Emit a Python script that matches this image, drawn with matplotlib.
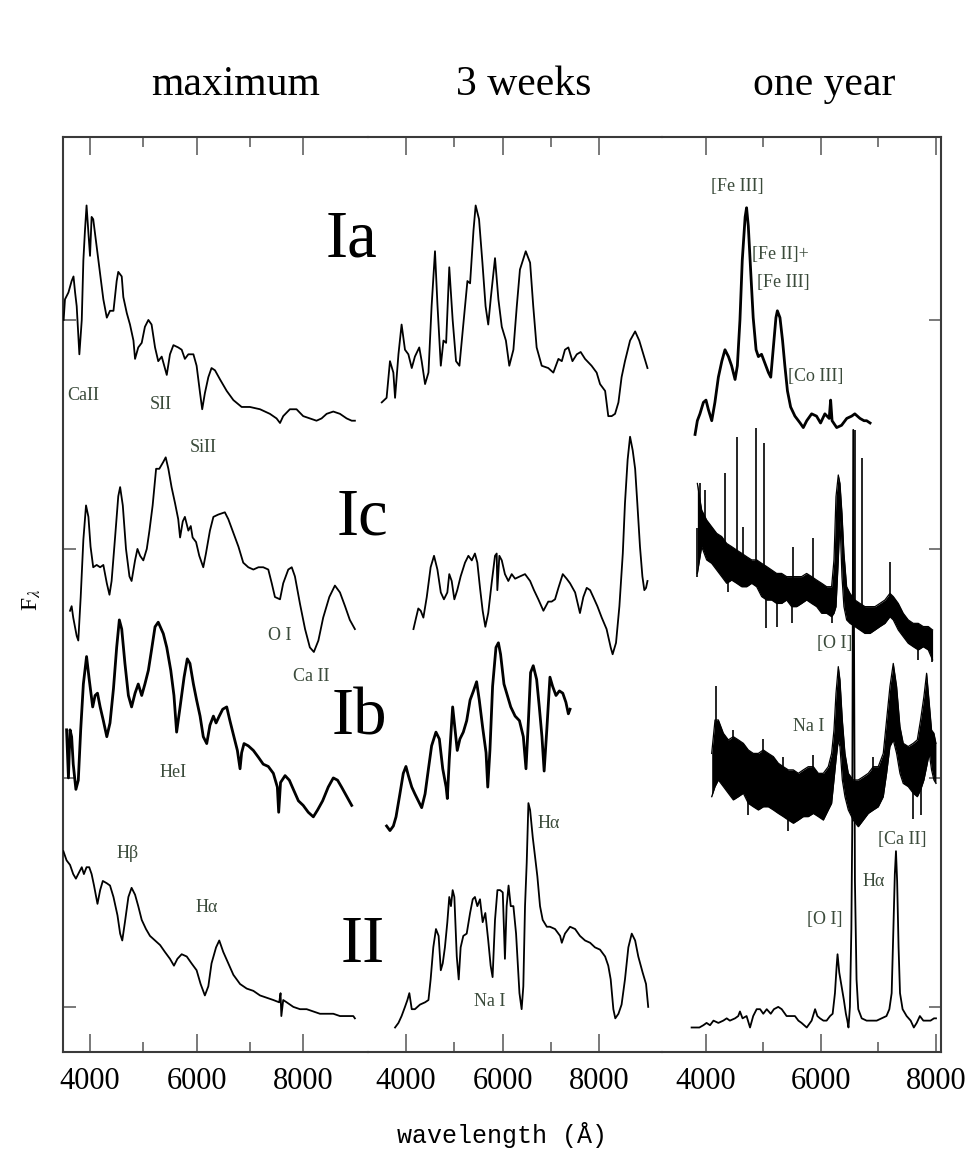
import numpy as np
import matplotlib.pyplot as plt

plt.rcParams['font.family'] = ['Liberation Serif', 'DejaVu Serif']
plt.rcParams['mathtext.fontset'] = 'stix'

# ---- data: (wavelength in A, flux relative to the type's baseline) ----
EPOCHS = ['maximum', '3 weeks', 'one year']
TYPES = ['Ia', 'Ic', 'Ib', 'II']
OFFSETS = [3, 2, 1, 0]
XTICKS = [4000, 6000, 8000]
XMINOR = [5000, 7000]

ia_max = [(3505, 0.00), (3530, 0.09), (3595, 0.12), (3655, 0.17), (3690, 0.19), (3720, 0.12), (3750, 0.06),
          (3800, -0.15), (3845, 0.00), (3875, 0.26), (3905, 0.39), (3935, 0.50), (3970, 0.38), (4000, 0.28),
          (4030, 0.45), (4060, 0.44), (4125, 0.32), (4190, 0.20), (4250, 0.09), (4315, 0.01), (4375, 0.04),
          (4440, 0.04), (4500, 0.17), (4530, 0.21), (4595, 0.19), (4625, 0.10), (4690, 0.03), (4750, -0.02),
          (4815, -0.09), (4845, -0.17), (4905, -0.12), (4970, -0.10), (5030, -0.03), (5095, 0.00), (5155, -0.02),
          (5220, -0.12), (5280, -0.18), (5345, -0.16), (5440, -0.24), (5500, -0.15), (5565, -0.11), (5655, -0.12),
          (5720, -0.13), (5780, -0.17), (5845, -0.15), (5940, -0.15), (6000, -0.20), (6065, -0.32), (6105, -0.39),
          (6155, -0.32), (6220, -0.25), (6280, -0.21), (6345, -0.22), (6440, -0.26), (6565, -0.31), (6690, -0.35),
          (6845, -0.38), (7000, -0.38), (7190, -0.39), (7375, -0.41), (7500, -0.43), (7565, -0.45), (7625, -0.42),
          (7750, -0.39), (7875, -0.39), (8000, -0.42), (8125, -0.43), (8250, -0.44), (8345, -0.43), (8440, -0.41),
          (8565, -0.40), (8690, -0.41), (8815, -0.43), (8910, -0.44), (8970, -0.44)]

ia_3wk = [(3505, -0.36), (3605, -0.34), (3675, -0.18), (3745, -0.23), (3780, -0.34), (3850, -0.15), (3915, -0.02),
          (3985, -0.13), (4055, -0.15), (4125, -0.21), (4190, -0.16), (4280, -0.12), (4330, -0.18), (4400, -0.28),
          (4470, -0.23), (4535, 0.06), (4605, 0.30), (4655, 0.07), (4725, -0.20), (4780, -0.09), (4835, -0.10),
          (4900, 0.23), (4970, 0.00), (5040, -0.18), (5110, -0.20), (5190, -0.02), (5275, 0.17), (5330, 0.16),
          (5400, 0.39), (5445, 0.50), (5515, 0.44), (5585, 0.25), (5650, 0.06), (5705, -0.02), (5760, 0.10),
          (5845, 0.27), (5915, 0.09), (5985, -0.03), (6070, -0.09), (6140, -0.20), (6225, -0.13), (6295, 0.06),
          (6360, 0.22), (6480, 0.30), (6570, 0.25), (6635, 0.06), (6705, -0.12), (6810, -0.20), (6945, -0.21),
          (7050, -0.23), (7155, -0.17), (7225, -0.18), (7290, -0.13), (7360, -0.12), (7445, -0.18), (7535, -0.15),
          (7615, -0.14), (7705, -0.17), (7840, -0.20), (7945, -0.23), (8015, -0.28), (8120, -0.31), (8185, -0.42),
          (8255, -0.42), (8325, -0.41), (8395, -0.36), (8460, -0.25), (8530, -0.18), (8635, -0.09), (8740, -0.05),
          (8825, -0.09), (8910, -0.15), (8995, -0.21)]

ia_year = [(3815, -0.50), (3855, -0.44), (3900, -0.41), (3960, -0.36), (4005, -0.35), (4045, -0.39), (4105, -0.44),
           (4160, -0.36), (4220, -0.25), (4280, -0.18), (4335, -0.13), (4395, -0.16), (4450, -0.20), (4510, -0.26),
           (4550, -0.20), (4595, 0.00), (4635, 0.26), (4685, 0.45), (4710, 0.49), (4740, 0.41), (4780, 0.22),
           (4825, 0.01), (4875, -0.13), (4915, -0.16), (4970, -0.15), (5030, -0.19), (5090, -0.23), (5130, -0.25),
           (5175, -0.12), (5220, 0.01), (5245, 0.04), (5290, 0.01), (5335, -0.09), (5375, -0.20), (5420, -0.31),
           (5475, -0.38), (5550, -0.42), (5640, -0.45), (5695, -0.47), (5755, -0.44), (5840, -0.41), (5925, -0.42),
           (5995, -0.45), (6070, -0.41), (6145, -0.43), (6170, -0.35), (6195, -0.44), (6275, -0.47), (6360, -0.46),
           (6450, -0.43), (6535, -0.42), (6590, -0.41), (6680, -0.43), (6750, -0.44), (6795, -0.44), (6855, -0.45)]

ic_max = [(3625, -0.27), (3655, -0.25), (3685, -0.30), (3750, -0.38), (3780, -0.40), (3825, -0.21), (3875, 0.04),
          (3925, 0.19), (3970, 0.14), (4010, 0.01), (4060, -0.08), (4125, -0.07), (4190, -0.08), (4250, -0.07),
          (4315, -0.15), (4365, -0.20), (4405, -0.14), (4470, 0.05), (4530, 0.23), (4565, 0.27), (4615, 0.19),
          (4675, 0.00), (4740, -0.12), (4780, -0.14), (4845, -0.05), (4890, 0.00), (4940, -0.03), (5000, -0.05),
          (5065, 0.00), (5115, 0.08), (5175, 0.19), (5240, 0.35), (5300, 0.35), (5375, 0.38), (5420, 0.40),
          (5470, 0.35), (5530, 0.27), (5595, 0.20), (5655, 0.13), (5690, 0.05), (5740, 0.12), (5780, 0.14),
          (5845, 0.08), (5890, 0.10), (5925, 0.05), (5990, 0.03), (6050, -0.03), (6125, -0.08), (6175, -0.02),
          (6250, 0.08), (6315, 0.14), (6405, 0.15), (6530, 0.16), (6595, 0.13), (6690, 0.07), (6785, 0.01),
          (6875, -0.06), (6970, -0.08), (7065, -0.09), (7160, -0.08), (7250, -0.08), (7345, -0.09), (7410, -0.15),
          (7470, -0.21), (7565, -0.22), (7625, -0.15), (7720, -0.09), (7785, -0.08), (7845, -0.12), (7940, -0.24),
          (8035, -0.35), (8125, -0.43), (8200, -0.45), (8285, -0.40), (8375, -0.30), (8490, -0.21), (8595, -0.16),
          (8690, -0.19), (8785, -0.25), (8875, -0.31), (8970, -0.35)]

ic_3wk = [(4160, -0.35), (4215, -0.30), (4260, -0.26), (4310, -0.27), (4365, -0.30), (4435, -0.21), (4515, -0.08),
          (4585, -0.03), (4655, -0.09), (4725, -0.19), (4790, -0.22), (4860, -0.19), (4900, -0.11), (4950, -0.14),
          (5005, -0.22), (5065, -0.18), (5135, -0.12), (5225, -0.06), (5295, -0.03), (5365, -0.05), (5430, -0.02),
          (5480, -0.06), (5535, -0.17), (5590, -0.27), (5645, -0.34), (5705, -0.28), (5775, -0.15), (5845, -0.03),
          (5880, -0.02), (5893, -0.18), (5935, -0.03), (5985, -0.05), (6050, -0.11), (6120, -0.14), (6190, -0.11),
          (6260, -0.13), (6360, -0.12), (6465, -0.11), (6570, -0.14), (6650, -0.18), (6740, -0.22), (6845, -0.27),
          (6945, -0.23), (7015, -0.23), (7085, -0.22), (7155, -0.17), (7245, -0.11), (7325, -0.13), (7395, -0.15),
          (7500, -0.19), (7600, -0.28), (7670, -0.21), (7740, -0.17), (7810, -0.18), (7875, -0.21), (7960, -0.25),
          (8050, -0.30), (8150, -0.35), (8235, -0.43), (8275, -0.46), (8345, -0.41), (8415, -0.25), (8485, -0.02),
          (8530, 0.20), (8585, 0.39), (8635, 0.49), (8690, 0.43), (8740, 0.35), (8785, 0.20), (8840, 0.01),
          (8890, -0.12), (8930, -0.18), (8965, -0.17), (8995, -0.14)]

ib_max = [(3560, 0.21), (3595, 0.00), (3625, 0.21), (3655, 0.18), (3685, 0.06), (3735, -0.05), (3780, -0.01),
          (3825, 0.21), (3875, 0.41), (3935, 0.53), (3985, 0.43), (4050, 0.31), (4095, 0.36), (4140, 0.37),
          (4190, 0.31), (4250, 0.25), (4315, 0.18), (4375, 0.24), (4440, 0.39), (4500, 0.57), (4550, 0.69),
          (4595, 0.65), (4655, 0.50), (4720, 0.36), (4780, 0.31), (4845, 0.37), (4905, 0.41), (4970, 0.36),
          (5030, 0.41), (5095, 0.47), (5155, 0.56), (5220, 0.66), (5280, 0.68), (5375, 0.63), (5440, 0.57),
          (5515, 0.47), (5575, 0.36), (5625, 0.20), (5690, 0.31), (5765, 0.44), (5825, 0.52), (5875, 0.50),
          (5940, 0.41), (6000, 0.34), (6065, 0.27), (6125, 0.18), (6190, 0.15), (6250, 0.23), (6315, 0.27),
          (6365, 0.24), (6425, 0.27), (6490, 0.30), (6565, 0.31), (6625, 0.25), (6700, 0.18), (6765, 0.12),
          (6815, 0.04), (6845, 0.11), (6890, 0.15), (6970, 0.14), (7065, 0.12), (7160, 0.09), (7250, 0.06),
          (7345, 0.05), (7440, 0.02), (7515, -0.04), (7540, -0.15), (7575, -0.02), (7660, 0.01), (7740, -0.01),
          (7815, -0.05), (7910, -0.10), (8000, -0.12), (8095, -0.15), (8190, -0.17), (8270, -0.14), (8365, -0.10),
          (8470, -0.04), (8565, 0.00), (8645, -0.01), (8720, -0.04), (8815, -0.08), (8910, -0.12)]

ib_3wk = [(3605, -0.21), (3675, -0.23), (3745, -0.21), (3800, -0.17), (3880, -0.07), (3950, 0.02), (4005, 0.05),
          (4055, 0.01), (4125, -0.04), (4190, -0.07), (4260, -0.10), (4330, -0.13), (4400, -0.07), (4470, 0.04),
          (4535, 0.14), (4625, 0.20), (4695, 0.17), (4765, 0.04), (4835, -0.04), (4860, -0.09), (4900, 0.08),
          (4970, 0.31), (5020, 0.21), (5065, 0.12), (5120, 0.17), (5190, 0.20), (5260, 0.25), (5330, 0.34),
          (5400, 0.38), (5465, 0.42), (5520, 0.34), (5590, 0.22), (5660, 0.11), (5695, -0.04), (5740, 0.12),
          (5795, 0.40), (5865, 0.57), (5915, 0.59), (5960, 0.54), (6030, 0.41), (6100, 0.36), (6170, 0.31),
          (6260, 0.27), (6350, 0.25), (6430, 0.18), (6485, 0.04), (6535, 0.25), (6580, 0.46), (6635, 0.49),
          (6705, 0.43), (6760, 0.31), (6815, 0.18), (6860, 0.03), (6915, 0.21), (6980, 0.44), (7035, 0.40),
          (7105, 0.36), (7175, 0.38), (7245, 0.37), (7310, 0.33), (7360, 0.28), (7395, 0.30)]

ii_max = [(3500, 0.68), (3560, 0.64), (3625, 0.62), (3685, 0.58), (3735, 0.56), (3800, 0.59), (3845, 0.61),
          (3885, 0.58), (3935, 0.61), (3985, 0.61), (4030, 0.58), (4075, 0.53), (4140, 0.45), (4190, 0.51),
          (4240, 0.55), (4315, 0.54), (4375, 0.53), (4440, 0.48), (4515, 0.40), (4565, 0.32), (4605, 0.29),
          (4655, 0.37), (4720, 0.48), (4780, 0.52), (4845, 0.49), (4905, 0.44), (4970, 0.38), (5050, 0.34),
          (5125, 0.31), (5220, 0.29), (5315, 0.27), (5405, 0.24), (5500, 0.21), (5575, 0.18), (5640, 0.21),
          (5720, 0.23), (5815, 0.22), (5905, 0.19), (6000, 0.16), (6075, 0.10), (6155, 0.05), (6220, 0.09),
          (6280, 0.19), (6365, 0.26), (6425, 0.29), (6500, 0.24), (6595, 0.19), (6690, 0.14), (6815, 0.10),
          (6940, 0.08), (7065, 0.07), (7190, 0.05), (7315, 0.04), (7440, 0.03), (7550, 0.02), (7575, 0.06),
          (7590, -0.04), (7625, 0.03), (7690, 0.02), (7815, 0.00), (7940, -0.01), (8065, -0.01), (8190, -0.02),
          (8315, -0.03), (8440, -0.03), (8565, -0.03), (8690, -0.04), (8815, -0.04), (8940, -0.04), (8970, -0.05)]

ii_3wk = [(3780, -0.09), (3850, -0.07), (3915, -0.04), (3985, 0.00), (4035, 0.03), (4075, 0.06), (4125, -0.01),
          (4190, -0.01), (4295, 0.01), (4400, 0.02), (4470, 0.03), (4515, 0.12), (4570, 0.26), (4625, 0.34),
          (4680, 0.31), (4725, 0.16), (4765, 0.19), (4810, 0.26), (4860, 0.37), (4900, 0.48), (4935, 0.44),
          (4970, 0.51), (5005, 0.48), (5055, 0.22), (5095, 0.12), (5135, 0.26), (5190, 0.31), (5260, 0.32),
          (5330, 0.41), (5385, 0.47), (5430, 0.48), (5480, 0.44), (5535, 0.47), (5590, 0.37), (5645, 0.41),
          (5705, 0.29), (5755, 0.18), (5795, 0.13), (5845, 0.38), (5895, 0.51), (5950, 0.51), (6005, 0.50),
          (6050, 0.21), (6085, 0.44), (6125, 0.53), (6170, 0.44), (6225, 0.44), (6280, 0.32), (6350, 0.06),
          (6395, -0.01), (6430, 0.09), (6465, 0.44), (6500, 0.63), (6535, 0.89), (6570, 0.86), (6625, 0.74),
          (6670, 0.66), (6720, 0.57), (6775, 0.44), (6830, 0.38), (6915, 0.35), (6980, 0.35), (7085, 0.34),
          (7190, 0.31), (7225, 0.28), (7290, 0.32), (7395, 0.35), (7500, 0.34), (7600, 0.31), (7705, 0.29),
          (7810, 0.28), (7910, 0.26), (8015, 0.25), (8120, 0.22), (8185, 0.18), (8235, 0.12), (8290, -0.01),
          (8330, -0.05), (8395, -0.03), (8460, 0.01), (8530, 0.12), (8600, 0.26), (8670, 0.32), (8740, 0.29),
          (8805, 0.22), (8895, 0.15), (8965, 0.10), (9010, 0.00)]

ii_year = [(3755, -0.09), (3815, -0.09), (3890, -0.09), (3960, -0.08), (4015, -0.07), (4075, -0.08), (4135, -0.06),
           (4220, -0.07), (4305, -0.06), (4365, -0.05), (4420, -0.06), (4510, -0.05), (4565, -0.04), (4595, -0.02),
           (4640, -0.05), (4710, -0.04), (4770, -0.09), (4825, -0.04), (4885, -0.01), (4945, -0.01), (5000, -0.03),
           (5060, -0.01), (5130, -0.03), (5185, -0.01), (5260, 0.00), (5320, -0.01), (5405, -0.04), (5495, -0.04),
           (5550, -0.04), (5610, -0.06), (5665, -0.07), (5755, -0.09), (5840, -0.06), (5900, -0.01), (5940, -0.04),
           (5985, -0.05), (6045, -0.06), (6100, -0.06), (6160, -0.04), (6205, -0.03), (6245, 0.06), (6275, 0.18),
           (6290, 0.23), (6320, 0.15), (6360, 0.09), (6400, 0.03), (6435, -0.03), (6460, -0.06), (6480, -0.09),
           (6505, 0.00), (6530, 0.34), (6545, 0.77), (6563, 2.52), (6592, 0.55), (6620, 0.12), (6650, -0.01),
           (6710, -0.05), (6795, -0.06), (6880, -0.06), (6970, -0.06), (7055, -0.05), (7140, -0.04), (7190, -0.01),
           (7230, 0.06), (7260, 0.34), (7285, 0.58), (7305, 0.68), (7325, 0.55), (7350, 0.26), (7375, 0.06),
           (7420, -0.01), (7490, -0.04), (7560, -0.06), (7615, -0.09), (7665, -0.07), (7720, -0.04), (7780, -0.06),
           (7835, -0.06), (7905, -0.06), (7965, -0.05), (8000, -0.05)]

# noisy late-time spectra: (wavelength, lower edge, upper edge) of the noise band
ic_year_band = [(3855, -0.107, 0.286), (3930, 0.010, 0.170), (4017, -0.048, 0.126), (4104, -0.063, 0.097),
                (4191, -0.092, 0.068), (4278, -0.121, 0.054), (4364, -0.150, 0.024), (4451, -0.136, 0.010),
                (4538, -0.150, -0.005), (4625, -0.165, -0.019), (4712, -0.165, -0.034), (4799, -0.150, -0.048),
                (4885, -0.165, -0.048), (4972, -0.208, -0.063), (5059, -0.223, -0.077), (5146, -0.223, -0.092),
                (5232, -0.238, -0.107), (5319, -0.238, -0.107), (5406, -0.223, -0.121), (5493, -0.252, -0.121),
                (5580, -0.252, -0.121), (5666, -0.238, -0.121), (5753, -0.223, -0.107), (5840, -0.238, -0.121),
                (5927, -0.252, -0.136), (6014, -0.281, -0.150), (6101, -0.281, -0.165), (6187, -0.296, -0.165),
                (6228, -0.281, -0.048), (6263, -0.252, 0.228), (6303, -0.048, 0.323), (6332, 0.126, 0.286),
                (6367, -0.121, 0.155), (6401, -0.252, -0.019), (6448, -0.310, -0.165), (6506, -0.325, -0.194),
                (6592, -0.339, -0.223), (6679, -0.354, -0.238), (6766, -0.369, -0.252), (6853, -0.369, -0.252),
                (6940, -0.354, -0.252), (7026, -0.339, -0.238), (7113, -0.325, -0.223), (7200, -0.296, -0.194),
                (7258, -0.310, -0.208), (7345, -0.354, -0.238), (7431, -0.383, -0.281), (7518, -0.412, -0.310),
                (7605, -0.427, -0.325), (7692, -0.441, -0.325), (7779, -0.427, -0.339), (7866, -0.441, -0.339),
                (7941, -0.485, -0.354)]
ic_year_spikes = [(3901, 0.286), (3988, 0.257), (4335, 0.330), (4538, 0.490), (4642, 0.097), (4874, 0.527),
                  (5013, 0.461), (5522, 0.010), (5869, 0.046), (6592, 0.519), (6708, 0.396), (7200, -0.056),
                  (3844, -0.121), (4393, -0.187), (5047, -0.347), (5244, -0.339), (5493, -0.325), (6187, -0.325),
                  (7692, -0.485), (7923, -0.492)]

ib_year_band = [(4104, -0.082, 0.107), (4162, -0.038, 0.253), (4220, -0.009, 0.253), (4307, -0.038, 0.195),
                (4393, -0.067, 0.166), (4480, -0.096, 0.180), (4567, -0.082, 0.166), (4654, -0.067, 0.151),
                (4740, -0.111, 0.122), (4827, -0.126, 0.107), (4914, -0.140, 0.107), (5001, -0.126, 0.122),
                (5088, -0.126, 0.107), (5175, -0.140, 0.093), (5261, -0.155, 0.064), (5348, -0.169, 0.049),
                (5435, -0.184, 0.035), (5522, -0.198, 0.035), (5609, -0.184, 0.020), (5695, -0.169, 0.035),
                (5782, -0.169, 0.049), (5869, -0.155, 0.049), (5956, -0.169, 0.020), (6043, -0.184, 0.020),
                (6129, -0.140, 0.049), (6187, -0.111, 0.107), (6228, -0.009, 0.209), (6263, 0.078, 0.369),
                (6303, 0.166, 0.486), (6332, 0.137, 0.428), (6373, -0.009, 0.253), (6419, -0.082, 0.107),
                (6477, -0.140, 0.020), (6563, -0.184, -0.009), (6650, -0.213, -0.009), (6737, -0.184, 0.005),
                (6824, -0.155, 0.020), (6911, -0.140, 0.049), (6997, -0.126, 0.049), (7084, -0.082, 0.107),
                (7142, 0.020, 0.253), (7200, 0.137, 0.399), (7258, 0.166, 0.500), (7316, 0.107, 0.399),
                (7374, 0.020, 0.224), (7431, -0.024, 0.151), (7518, -0.038, 0.137), (7605, -0.067, 0.151),
                (7675, -0.082, 0.166), (7732, -0.053, 0.253), (7790, -0.009, 0.355), (7837, 0.049, 0.457),
                (7883, 0.107, 0.326), (7923, 0.035, 0.209), (7964, -0.009, 0.195), (7999, -0.024, 0.151)]
ib_year_spikes = [(4179, 0.40), (4480, 0.21), (5001, 0.17), (5348, 0.09), (5869, 0.10), (6911, 0.09),
                  (4740, -0.16), (5435, -0.23), (7605, -0.18), (7732, -0.16)]

SPECTRA = {
    (0, 'Ia'): ia_max, (1, 'Ia'): ia_3wk, (2, 'Ia'): ia_year,
    (0, 'Ic'): ic_max, (1, 'Ic'): ic_3wk,
    (0, 'Ib'): ib_max, (1, 'Ib'): ib_3wk,
    (0, 'II'): ii_max, (1, 'II'): ii_3wk, (2, 'II'): ii_year,
}
NOISY = {'Ic': (ic_year_band, ic_year_spikes), 'Ib': (ib_year_band, ib_year_spikes)}

# line identifications: (panel, wavelength, flux, text, ha)
LINE_IDS = [
    (0, 3869, 2.672, 'CaII', 'center'), (0, 5332, 2.629, 'SII', 'center'), (0, 6120, 2.445, 'SiII', 'center'),
    (0, 7564, 1.624, 'O I', 'center'), (0, 8146, 1.441, 'Ca II', 'center'), (0, 5557, 1.022, 'HeI', 'center'),
    (0, 4713, 0.668, 'H\u03b2', 'center'), (0, 6195, 0.432, 'H\u03b1', 'center'),
    (1, 6733, 0.803, 'H\u03b1', 'left'), (1, 5742, 0.022, 'Na I', 'center'),
    (2, 4544, 3.581, '[Fe III]', 'center'), (2, 4804, 3.288, '[Fe II]+', 'left'),
    (2, 4891, 3.162, '[Fe III]', 'left'), (2, 5429, 2.755, '[Co III]', 'left'),
    (2, 6246, 1.585, '[O I]', 'center'), (2, 5795, 1.223, 'Na I', 'center'),
    (2, 7411, 0.729, '[Ca II]', 'center'), (2, 6925, 0.546, 'H\u03b1', 'center'),
    (2, 6071, 0.380, '[O I]', 'center'),
]
# type labels sit at the right side of the first panel: (wavelength, baseline flux)
TYPE_LABEL_POS = {'Ia': (8915, 3.275), 'Ic': (9103, 2.061), 'Ib': (9047, 1.188), 'II': (9122, 0.197)}

W, H = 974, 1153
fig = plt.figure(figsize=(W / 100, H / 100), dpi=100)


def add_panel(x0, x1):
    return fig.add_axes([x0 / W, 1 - 1052 / H, (x1 - x0) / W, 915 / H])


axes = [add_panel(63, 368), add_panel(368, 662), add_panel(662, 941)]
xlims = [(3493, 9216), (3221, 9295), (3241, 8087)]
frame = '#3a3a3a'
lab_col = '#3b4b3b'

for i, ax in enumerate(axes):
    ax.patch.set_visible(False)
    ax.set_xlim(*xlims[i])
    ax.set_ylim(-0.197, 3.799)
    ax.set_xticks(XTICKS)
    ax.set_xticklabels([str(t) for t in XTICKS])
    ax.set_xticks(XMINOR, minor=True)
    ax.tick_params(axis='x', which='both', direction='in', top=True, bottom=True, color='#555555', width=1.1)
    ax.tick_params(axis='x', which='major', length=13, pad=11, labelsize=22)
    ax.tick_params(axis='x', which='minor', length=7)
    ax.set_yticks(OFFSETS)
    ax.tick_params(axis='y', direction='in', length=9, width=1.1, color='#555555',
                   left=(i == 0), right=(i == 2), labelleft=False, labelright=False)
    for side, sp in ax.spines.items():
        sp.set_color(frame)
        sp.set_linewidth(1.5)
    ax.spines['left'].set_visible(i == 0)
    ax.spines['right'].set_visible(i == 2)

for (p, t), spec in SPECTRA.items():
    off = OFFSETS[TYPES.index(t)]
    wl = [s[0] for s in spec]
    fl = [s[1] + off for s in spec]
    lw = 2.0 if (t == 'Ib' or (p == 2 and t == 'Ia')) else 1.3
    axes[p].plot(wl, fl, color='black', lw=lw, solid_joinstyle='round', zorder=3)

for t, (band, spikes) in NOISY.items():
    off = OFFSETS[TYPES.index(t)]
    wl = np.array([b[0] for b in band])
    lo = np.array([b[1] for b in band]) + off
    hi = np.array([b[2] for b in band]) + off
    ax = axes[2]
    ax.fill_between(wl, lo, hi, color='black', lw=0, zorder=3)
    ax.plot(wl, lo, color='black', lw=0.9, zorder=3)
    ax.plot(wl, hi, color='black', lw=0.9, zorder=3)
    mid = (lo + hi) / 2
    sw = [s[0] for s in spikes]
    base = np.interp(sw, wl, mid)
    ax.vlines(sw, base, [s[1] + off for s in spikes], color='black', lw=1.2, zorder=3)

for p, wl, fl, txt, ha in LINE_IDS:
    axes[p].text(wl, fl, txt, fontsize=13, color=lab_col, ha=ha, va='center', zorder=4)

for t, (wl, fl) in TYPE_LABEL_POS.items():
    axes[0].text(wl, fl, t, fontsize=48, ha='center', va='baseline', zorder=4)

for x, title in zip([236, 524, 824], EPOCHS):
    fig.text(x / W, 1 - 95 / H, title, fontsize=30, ha='center', va='baseline')

fig.text(502 / W, 1 - 1135 / H, 'wavelength (\u00c5)', family=['Liberation Mono', 'DejaVu Sans Mono'],
         fontsize=18, ha='center', va='center')
fig.text(32 / W, 1 - 600 / H, r'F$_\lambda$', fontsize=17, rotation=90, ha='center', va='center')

fig.savefig('out.png', dpi=100)
